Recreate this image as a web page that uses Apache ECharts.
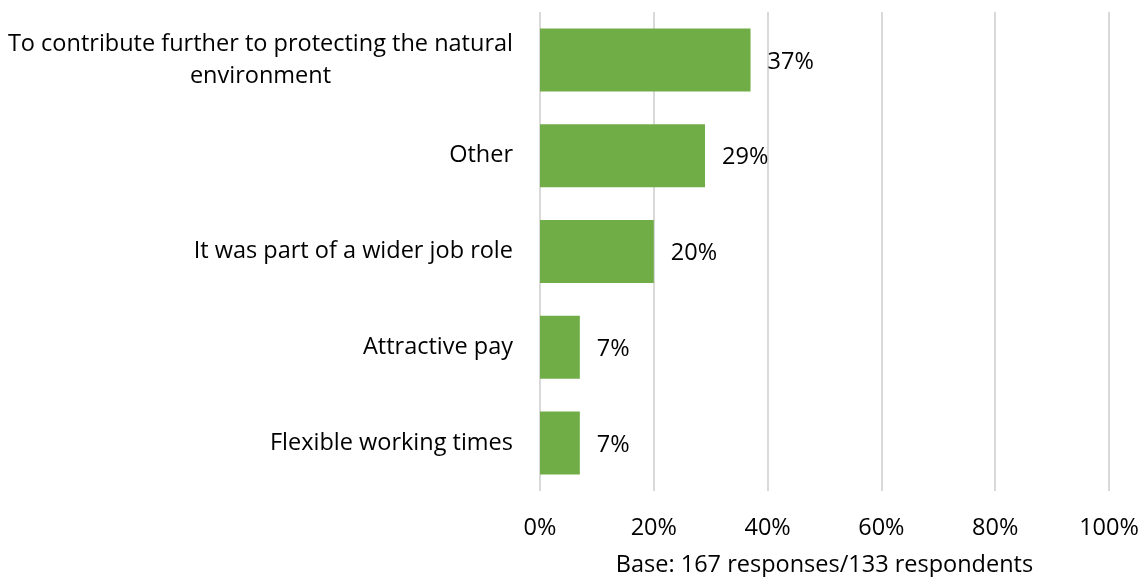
<!DOCTYPE html>
<html>
<head>
<meta charset="utf-8">
<script src="https://cdn.jsdelivr.net/npm/echarts@6/dist/echarts.min.js"></script>
<style>
  html, body { margin: 0; padding: 0; background: #ffffff; }
  #chart { width: 1141px; height: 577px; }
</style>
</head>
<body>
<div id="chart"></div>
<script>
// Reasons given, listed top to bottom
const categories = [
  'To contribute further to protecting the natural\nenvironment',
  'Other',
  'It was part of a wider job role',
  'Attractive pay',
  'Flexible working times'
];
// Share of responses (%)
const shares = [37, 29, 20, 7, 7];
// Percentage axis ticks
const tickValues = [0, 20, 40, 60, 80, 100];
const baseNote = 'Base: 167 responses/133 respondents';

const FONT = '"Open Sans", "Noto Sans", sans-serif';
const TEXT = '#000000';
const SIZE = 23.5;

const chart = echarts.init(document.getElementById('chart'), null, { renderer: 'canvas' });

chart.setOption({
  animation: false,
  backgroundColor: '#ffffff',
  grid: {
    left: 540, right: 32, top: 12, bottom: 86,
    containLabel: false,
    outerBoundsMode: 'none'
  },
  xAxis: {
    type: 'value',
    min: tickValues[0],
    max: tickValues[tickValues.length - 1],
    interval: tickValues[1] - tickValues[0],
    axisLine: { show: false },
    axisTick: { show: false },
    splitLine: { show: true, lineStyle: { color: '#d9d9d9', width: 2 } },
    axisLabel: {
      formatter: v => v + '%',
      color: TEXT, fontFamily: FONT, fontSize: SIZE, margin: 25
    },
    name: baseNote,
    nameLocation: 'middle',
    nameGap: 62,
    nameTextStyle: { color: TEXT, fontFamily: FONT, fontSize: SIZE }
  },
  yAxis: {
    type: 'category',
    inverse: true,
    data: categories,
    axisLine: { show: false },
    axisTick: { show: false },
    axisLabel: {
      margin: 27,
      align: 'right',
      formatter: v => v.split('\n').map(s => '{c|' + s + '}').join('\n'),
      rich: {
        c: { align: 'center', color: TEXT, fontFamily: FONT, fontSize: SIZE, lineHeight: 32 }
      }
    }
  },
  series: [{
    type: 'bar',
    data: shares,
    barWidth: 63,
    itemStyle: { color: '#70ad47' },
    label: {
      show: true,
      position: 'right',
      distance: 17,
      offset: [0, 2],
      formatter: p => p.value + '%',
      color: TEXT, fontFamily: FONT, fontSize: SIZE
    }
  }]
});
</script>
</body>
</html>
